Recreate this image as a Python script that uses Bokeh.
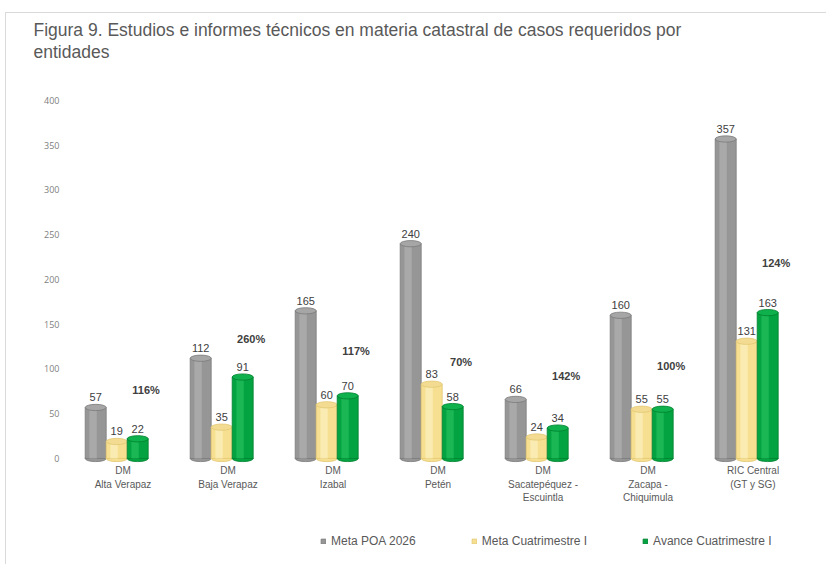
from bokeh.plotting import figure
from bokeh.models import (ColumnDataSource, Range1d, FactorRange, Legend, LegendItem, Title)
from bokeh.transform import dodge
from bokeh.core.properties import value
from bokeh.embed import file_html
from bokeh.resources import INLINE

# ---- data ----
categories = ["DM\nAlta Verapaz", "DM\nBaja Verapaz", "DM\nIzabal", "DM\nPetén",
              "DM\nSacatepéquez -\nEscuintla", "DM\nZacapa -\nChiquimula", "RIC Central\n(GT y SG)"]
meta_poa = [57, 112, 165, 240, 66, 160, 357]
meta_cuatri = [19, 35, 60, 83, 24, 55, 131]
avance_cuatri = [22, 91, 70, 58, 34, 55, 163]
porcentaje = ["116%", "260%", "117%", "70%", "142%", "100%", "124%"]
porcentaje_y = [76, 133, 120, 108, 92, 103, 218]
series_names = ["Meta POA 2026", "Meta Cuatrimestre I", "Avance Cuatrimestre I"]
y_ticks = [0, 50, 100, 150, 200, 250, 300, 350, 400]
title_line1 = "Figura 9. Estudios e informes técnicos en materia catastral de casos requeridos por"
title_line2 = "entidades"

src = ColumnDataSource(dict(cat=categories, poa=meta_poa, mc=meta_cuatri, av=avance_cuatri,
                            pct=porcentaje, pct_y=porcentaje_y, zero=[0] * len(categories),
                            poa_l=[str(v) for v in meta_poa],
                            mc_l=[str(v) for v in meta_cuatri],
                            av_l=[str(v) for v in avance_cuatri]))

# frame spans y=100..560 px of the page; value 0 sits at 458 px, 400 at 100 px
p = figure(width=821, height=552, x_range=FactorRange(*categories), y_range=Range1d(-114, 400),
           output_backend="svg", toolbar_location=None,
           min_border_left=64, min_border_right=22, min_border_top=87, min_border_bottom=5)
p.margin = (12, 0, 0, 5)
p.styles = {"border-top": "1px solid #dadada", "border-left": "1px solid #dadada"}
p.title = None
# titles stack outward from the plot: blank spacer, then line 2, then line 1
p.add_layout(Title(text=" ", text_font="Liberation Sans", text_font_size="17.5px",
                   align="left", standoff=17), "above")
p.add_layout(Title(text=title_line2, text_font="Liberation Sans", text_font_size="17.5px",
                   text_font_style="normal", text_color="#595959", align="left", offset=-37,
                   standoff=0), "above")
p.add_layout(Title(text=title_line1, text_font="Liberation Sans", text_font_size="17.5px",
                   text_font_style="normal", text_color="#595959", align="left", offset=-37,
                   standoff=0), "above")
p.outline_line_color = None
p.grid.grid_line_color = None
p.background_fill_color = "white"

BW = 0.2
H = 7
specs = [
    ("poa", -0.26, "#969696", "#7a7a7a", "#b0b0b0", "#a6a6a6", "poa_l"),
    ("mc", -0.06, "#f6df90", "#e2c873", "#fbefbf", "#f3dc92", "mc_l"),
    ("av", 0.14, "#04a342", "#00802f", "#23bf5c", "#0fb14d", "av_l"),
]
body_renderers = []
for col, off, body, edge, hi, top, lab in specs:
    xx = dodge("cat", off, range=p.x_range)
    p.ellipse(x=xx, y=0, width=BW, height=H, source=src, fill_color=body, line_color=edge, line_width=0.8)
    r = p.vbar(x=xx, top=col, bottom=0, width=BW, source=src, fill_color=body, line_color=edge, line_width=0.8)
    body_renderers.append(r)
    p.vbar(x=dodge("cat", off - 0.025, range=p.x_range), top=col, bottom=0, width=BW * 0.35,
           source=src, fill_color=hi, line_color=None, fill_alpha=0.7)
    p.ellipse(x=xx, y=col, width=BW, height=H, source=src, fill_color=top, line_color=edge, line_width=0.8)
    p.text(x=xx, y=col, text=lab, source=src, text_align="center", text_baseline="bottom", y_offset=-6,
           text_font=value("Liberation Sans"), text_font_size="11px", text_color="#404040")

p.text(x=dodge("cat", 0.22, range=p.x_range), y="pct_y", text="pct", source=src,
       text_align="center", text_baseline="middle", text_font=value("Liberation Sans"),
       text_font_size="11px", text_font_style="bold", text_color="#404040")

# category labels under the bars
p.text(x="cat", y="zero", text="cat", source=src, text_align="center", text_baseline="top",
       y_offset=7, text_line_height=1.22, text_font=value("Liberation Sans"),
       text_font_size="10px", text_color="#595959")

p.yaxis.ticker = y_ticks
p.yaxis.axis_line_color = None
p.yaxis.major_tick_line_color = None
p.yaxis.minor_tick_line_color = None
p.yaxis.major_label_text_font = "Open Sans"
p.yaxis.major_label_text_font_size = "9px"
p.yaxis.major_label_text_color = "#808080"
p.yaxis.major_label_standoff = 5
p.xaxis.visible = False

legend = Legend(items=[LegendItem(label=n, renderers=[r]) for n, r in zip(series_names, body_renderers)],
                orientation="horizontal", location=(250, 12), glyph_width=6, glyph_height=6,
                label_text_font="Liberation Sans", label_text_font_size="12px", label_text_color="#595959",
                spacing=55, label_standoff=5, border_line_color=None, padding=0, margin=0,
                background_fill_alpha=0)
p.add_layout(legend, "center")

open("out.html", "w").write(file_html(p, INLINE))
